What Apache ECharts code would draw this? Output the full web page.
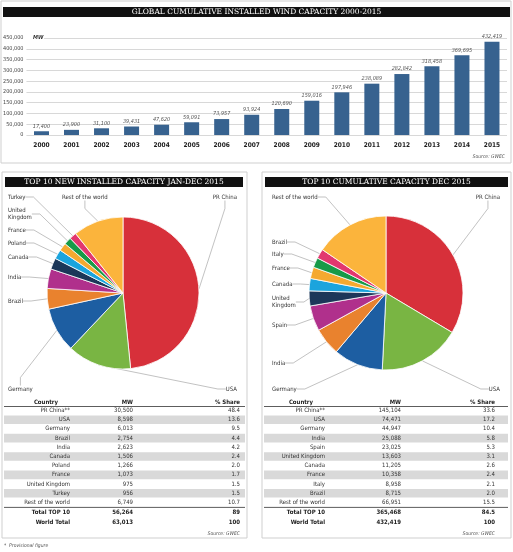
<!DOCTYPE html>
<html>
<head>
<meta charset="utf-8">
<script src="https://cdn.jsdelivr.net/npm/echarts@6/dist/echarts.min.js"></script>
<style>
  html, body { margin: 0; padding: 0; background: #fff; }
  #main { width: 513px; height: 552px; }
</style>
</head>
<body>
<div id="main"></div>
<script>
// 柱状图数据
var years = ['2000', '2001', '2002', '2003', '2004', '2005', '2006', '2007',
    '2008', '2009', '2010', '2011', '2012', '2013', '2014', '2015'];
var cumulativeMW = [17400, 23900, 31100, 39431, 47620, 59091, 73957, 93924,
    120690, 159016, 197946, 238089, 282842, 318458, 369695, 432419];

// 2015 新增装机
var newCountries = ['PR China', 'USA', 'Germany', 'Brazil', 'India', 'Canada',
    'Poland', 'France', 'United Kingdom', 'Turkey', 'Rest of the world'];
var newMW = [30500, 8598, 6013, 2754, 2623, 1506, 1266, 1073, 975, 956, 6749];
var newShare = [48.4, 13.6, 9.5, 4.4, 4.2, 2.4, 2.0, 1.7, 1.5, 1.5, 10.7];
var newTotals = [['Total TOP 10', 56264, 89], ['World Total', 63013, 100]];

// 2015 累计装机
var cumCountries = ['PR China', 'USA', 'Germany', 'India', 'Spain', 'United Kingdom',
    'Canada', 'France', 'Italy', 'Brazil', 'Rest of the world'];
var cumMW = [145104, 74471, 44947, 25088, 23025, 13603, 11205, 10358, 8958, 8715, 66951];
var cumShare = [33.6, 17.2, 10.4, 5.8, 5.3, 3.1, 2.6, 2.4, 2.1, 2.0, 15.5];
var cumTotals = [['Total TOP 10', 365468, 84.5], ['World Total', 432419, 100]];

var sliceColors = ['#d7303a', '#79b543', '#1d5ea2', '#e9822e', '#b0308c', '#1c3759',
    '#1ba4dd', '#f5a92f', '#179a48', '#e2376f', '#fbb43c'];

var narrow = "'Liberation Sans Narrow', 'DejaVu Sans Condensed', 'Liberation Sans', sans-serif";
var serif = "'DejaVu Serif', 'Liberation Serif', serif";

function fmt(v) {
    return String(v).replace(/\B(?=(\d{3})+(?!\d))/g, ',');
}

// 饼图标签位置 [x, y, align]
var newLabelPos = [[237, 197, 'right'], [237, 389, 'right'], [8, 389, 'left'], [8, 301, 'left'],
    [8, 277, 'left'], [8, 257, 'left'], [8, 243, 'left'], [8, 230, 'left'], [8, 214, 'left'],
    [8, 197, 'left'], [62, 197, 'left']];
var cumLabelPos = [[500, 197, 'right'], [500, 389, 'right'], [272, 389, 'left'], [272, 363, 'left'],
    [272, 325, 'left'], [272, 302, 'left'], [272, 284, 'left'], [272, 268, 'left'], [272, 254, 'left'],
    [272, 242, 'left'], [272, 197, 'left']];

function pieSeries(names, values, center, radius, labelPos) {
    return {
        type: 'pie',
        center: center,
        radius: radius,
        startAngle: 90,
        clockwise: true,
        silent: true,
        animation: false,
        data: names.map(function (n, i) {
            return { name: n, value: values[i], itemStyle: { color: sliceColors[i] } };
        }),
        itemStyle: { borderColor: '#fff', borderWidth: 0.8 },
        label: {
            show: true,
            formatter: function (p) { return p.name.replace(' Kingdom', '\nKingdom'); },
            fontFamily: narrow,
            fontSize: 6,
            lineHeight: 7,
            color: '#333'
        },
        labelLine: { show: true, length: 8, length2: 8, lineStyle: { color: '#999', width: 0.6 } },
        labelLayout: function (p) {
            var pos = labelPos[p.dataIndex];
            return { x: pos[0], y: pos[1], align: pos[2], verticalAlign: 'middle', hideOverlap: false, moveOverlap: null };
        }
    };
}

// 表格（graphic 文本）
function tableGraphics(cols, bandX, bandW, countries, mw, share, totals) {
    var els = [];
    var top = 402, rowH = 9.2;
    var base = { fontFamily: narrow, fontSize: 6, fill: '#333', verticalAlign: 'middle' };
    function txt(x, y, s, align, extra) {
        var st = Object.assign({}, base, { text: s, align: align }, extra || {});
        els.push({ type: 'text', x: x, y: y, style: st, silent: true });
    }
    var bold = { fontWeight: 'bold', fill: '#222' };
    txt(cols[0] - 12, top, 'Country', 'right', bold);
    txt(cols[1], top, 'MW', 'right', bold);
    txt(cols[2], top, '% Share', 'right', bold);
    els.push({ type: 'line', shape: { x1: bandX, y1: top + 4.5, x2: bandX + bandW, y2: top + 4.5 },
        style: { stroke: '#333', lineWidth: 0.8 }, silent: true });
    countries.forEach(function (c, i) {
        var y = top + 8.5 + i * rowH;
        if (i % 2 === 1) {
            els.push({ type: 'rect', shape: { x: bandX, y: y - rowH / 2 + 0.3, width: bandW, height: rowH - 0.6 },
                style: { fill: '#d9d9d9' }, silent: true, z: -1 });
        }
        txt(cols[0], y, c + (i === 0 ? '**' : ''), 'right');
        txt(cols[1], y, fmt(mw[i]), 'right');
        txt(cols[2], y, share[i].toFixed(1), 'right');
    });
    var yLine = top + 8.5 + countries.length * rowH - 4.3;
    els.push({ type: 'line', shape: { x1: bandX, y1: yLine, x2: bandX + bandW, y2: yLine },
        style: { stroke: '#333', lineWidth: 0.8 }, silent: true });
    totals.forEach(function (t, i) {
        var y = yLine + 5.5 + i * rowH;
        txt(cols[0], y, t[0], 'right', bold);
        txt(cols[1], y, fmt(t[1]), 'right', bold);
        txt(cols[2], y, String(t[2]), 'right', bold);
    });
    txt(cols[2], yLine + 5.5 + 2 * rowH + 2, 'Source: GWEC', 'right', { fontStyle: 'italic', fontSize: 5, fill: '#555' });
    return els;
}

function titleBar(x, y, w, h, text) {
    return [
        { type: 'rect', shape: { x: x, y: y, width: w, height: h }, style: { fill: '#111' }, silent: true },
        { type: 'text', x: x + w / 2, y: y + h / 2 + 0.5, silent: true,
          style: { text: text, fill: '#fff', fontFamily: serif, fontSize: 7.5, align: 'center', verticalAlign: 'middle' } }
    ];
}

var graphics = [
    { type: 'rect', shape: { x: 1, y: 1, width: 510, height: 162 }, style: { fill: 'none', stroke: '#cfcfcf', lineWidth: 1 }, silent: true },
    { type: 'rect', shape: { x: 2, y: 172, width: 245, height: 366 }, style: { fill: 'none', stroke: '#cfcfcf', lineWidth: 1 }, silent: true },
    { type: 'rect', shape: { x: 262, y: 172, width: 249, height: 366 }, style: { fill: 'none', stroke: '#cfcfcf', lineWidth: 1 }, silent: true },
    { type: 'rect', shape: { x: 26, y: 35, width: 18, height: 6 }, style: { fill: '#fff' }, silent: true, z: 5 },
    { type: 'text', x: 33, y: 38, z: 6, silent: true,
      style: { text: 'MW', fontFamily: narrow, fontSize: 5.5, fontWeight: 'bold', fontStyle: 'italic', fill: '#333', verticalAlign: 'middle' } },
    { type: 'text', x: 505, y: 157, silent: true,
      style: { text: 'Source: GWEC', fontFamily: narrow, fontSize: 5, fontStyle: 'italic', fill: '#555', align: 'right', verticalAlign: 'middle' } },
    { type: 'text', x: 4, y: 546, silent: true,
      style: { text: '*  Provisional figure', fontFamily: narrow, fontSize: 5, fontStyle: 'italic', fill: '#555', verticalAlign: 'middle' } }
]
    .concat(titleBar(3, 7, 507, 10, 'GLOBAL CUMULATIVE INSTALLED WIND CAPACITY 2000-2015'))
    .concat(titleBar(5, 177, 238, 10, 'TOP 10 NEW INSTALLED CAPACITY JAN-DEC 2015'))
    .concat(titleBar(265, 177, 243, 10, 'TOP 10 CUMULATIVE CAPACITY DEC 2015'))
    .concat(tableGraphics([70, 133, 240], 4, 241, newCountries, newMW, newShare, newTotals))
    .concat(tableGraphics([325, 401, 495], 264, 244, cumCountries, cumMW, cumShare, cumTotals));

var myChart = echarts.init(document.getElementById('main'), null, { renderer: 'canvas' });

myChart.setOption({
    animation: false,
    backgroundColor: '#fff',
    grid: { left: 25, right: 6, top: 38, bottom: 417, containLabel: false },
    xAxis: {
        type: 'category',
        data: years,
        axisLine: { show: false },
        axisTick: { show: false },
        axisLabel: { fontFamily: narrow, fontSize: 6.5, fontWeight: 'bold', color: '#222', margin: 7 }
    },
    yAxis: {
        type: 'value',
        min: 0,
        max: 450000,
        interval: 50000,
        axisLine: { show: false },
        axisTick: { show: false },
        axisLabel: { fontFamily: narrow, fontSize: 5.5, color: '#444', margin: 3, formatter: function (v) { return fmt(v); } },
        splitLine: { lineStyle: { color: '#bdbdbd', width: 0.6 } }
    },
    series: [
        {
            type: 'bar',
            data: cumulativeMW,
            barWidth: 15,
            itemStyle: { color: '#37628f' },
            label: {
                show: true,
                position: 'top',
                distance: 2,
                fontFamily: narrow,
                fontSize: 5.5,
                fontStyle: 'italic',
                color: '#555',
                formatter: function (p) { return fmt(p.value); }
            },
            silent: true
        },
        pieSeries(newCountries, newMW, [123, 293], 76, newLabelPos),
        pieSeries(cumCountries, cumMW, [386, 293], 77, cumLabelPos)
    ],
    graphic: graphics
});
</script>
</body>
</html>
